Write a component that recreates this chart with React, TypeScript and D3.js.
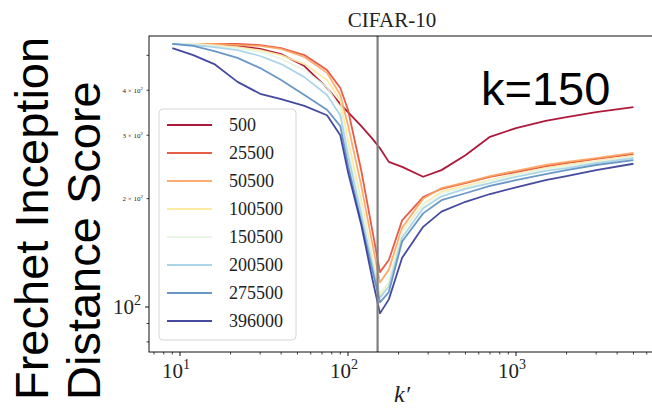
import React from "react";
import * as d3 from "d3";

// k' values at which the score was measured
const kPrime = [9, 12, 16, 22, 30, 40, 55, 75, 90, 100, 120, 140, 155, 175, 210, 280, 360, 500, 700, 1000, 1500, 2000, 3000, 5000];

// number of training samples for each curve
const sampleSizes = ["500", "25500", "50500", "100500", "150500", "200500", "275500", "396000"];

// FID per curve, aligned with kPrime
const fid500 = [538, 538, 534, 531, 521, 504, 467, 406, 366, 348, 318, 293, 276, 253, 245, 230, 240, 264, 297, 314, 329, 337, 348, 359];
const fid25500 = [538, 538, 538, 538, 534, 524, 501, 455, 406, 353, 239, 162, 125, 135, 174, 202, 213, 221, 230, 237, 246, 251, 258, 266];
const fid50500 = [538, 538, 538, 534, 531, 521, 495, 447, 388, 320, 217, 149, 117, 127, 166, 200, 214, 222, 231, 239, 248, 253, 259, 268];
const fid100500 = [538, 538, 534, 527, 517, 501, 473, 427, 376, 291, 198, 137, 108, 117, 162, 193, 209, 217, 225, 234, 243, 248, 254, 263];
const fid150500 = [538, 538, 531, 524, 511, 489, 455, 408, 357, 273, 192, 135, 109, 117, 161, 192, 207, 215, 224, 233, 242, 246, 253, 261];
const fid200500 = [538, 534, 527, 517, 498, 473, 435, 388, 341, 264, 181, 130, 106, 114, 156, 188, 203, 213, 221, 230, 239, 243, 251, 259];
const fid275500 = [538, 531, 514, 492, 461, 427, 388, 353, 318, 248, 172, 126, 103, 110, 152, 182, 198, 207, 217, 225, 234, 240, 248, 256];
const fid396000 = [524, 501, 473, 422, 391, 378, 362, 341, 300, 237, 169, 119, 96, 105, 137, 167, 184, 196, 206, 215, 225, 231, 240, 250];

const allSeries = [fid500, fid25500, fid50500, fid100500, fid150500, fid200500, fid275500, fid396000];

// chosen k marked by the vertical rule
const chosenK = 150;

// axis ticks
const xMajorTicks = [10, 100, 1000];
const xMajorExponents = ["1", "2", "3"];
const xMinorTicks = [7, 8, 9, 20, 30, 40, 50, 60, 70, 80, 90, 200, 300, 400, 500, 600, 700, 800, 900, 2000, 3000, 4000, 5000, 6000, 7000];
const yMajorTicks = [100];
const yMinorTicks = [80, 90, 200, 300, 400, 500];
const yMinorLabelled = [200, 300, 400];
const yMinorLabelMantissa = ["2", "3", "4"];

const W = 652;
const H = 409;

export default function App() {
  const left = 149;
  const top = 36;
  const bottom = 352;
  const right = 660;

  const x = d3.scaleLog().domain([10, 1000]).range([180, 516]);
  const y = d3.scaleLog().domain([100, 1000]).range([307, -53]);

  const color = (i: number) => d3.interpolateRdYlBu(i / (sampleSizes.length - 1));

  const line = d3
    .line<number>()
    .x((_, i) => x(kPrime[i]))
    .y((d) => y(d));

  const serif = "'Liberation Serif', 'DejaVu Serif', serif";
  const sans = "'Liberation Sans', Arial, sans-serif";

  const legendX = 159;
  const legendY = 109;
  const rowH = 28;

  return (
    <svg
      width={W}
      height={H}
      viewBox={`0 0 ${W} ${H}`}
      style={{ position: "absolute", left: 0, top: 0, background: "#fff" }}
    >
      <defs>
        <clipPath id="plotArea">
          <rect x={left} y={top} width={right - left} height={bottom - top} />
        </clipPath>
      </defs>

      {/* title */}
      <text x={392} y={27} textAnchor="middle" fontFamily={serif} fontSize={21} fill="#222">
        CIFAR-10
      </text>

      {/* curves */}
      <g clipPath="url(#plotArea)">
        {allSeries.map((s, i) => (
          <path
            key={sampleSizes[i]}
            d={line(s) || ""}
            fill="none"
            stroke={color(i)}
            strokeWidth={1.8}
            strokeOpacity={0.9}
            strokeLinejoin="round"
          />
        ))}
        <line
          x1={x(chosenK)}
          x2={x(chosenK)}
          y1={top}
          y2={bottom}
          stroke="#7f7f7f"
          strokeWidth={2.2}
        />
      </g>

      {/* frame */}
      <rect x={left} y={top} width={right - left} height={bottom - top} fill="none" stroke="#111" strokeWidth={1} />

      {/* x ticks */}
      {xMinorTicks.map((t) => (
        <line key={"xm" + t} x1={x(t)} x2={x(t)} y1={bottom} y2={bottom + 2.5} stroke="#111" strokeWidth={0.8} />
      ))}
      {xMajorTicks.map((t, i) => (
        <g key={"xM" + t}>
          <line x1={x(t)} x2={x(t)} y1={bottom} y2={bottom + 4} stroke="#111" strokeWidth={1} />
          <text x={x(t) - 4} y={378} textAnchor="middle" fontFamily={serif} fontSize={21} fill="#222">
            10
            <tspan dy={-9} fontSize={14}>
              {xMajorExponents[i]}
            </tspan>
          </text>
        </g>
      ))}

      {/* y ticks */}
      {yMinorTicks.map((t) => (
        <line key={"ym" + t} x1={left - 2.5} x2={left} y1={y(t)} y2={y(t)} stroke="#111" strokeWidth={0.8} />
      ))}
      {yMajorTicks.map((t) => (
        <g key={"yM" + t}>
          <line x1={left - 4} x2={left} y1={y(t)} y2={y(t)} stroke="#111" strokeWidth={1} />
          <text x={left - 8} y={y(t) + 7} textAnchor="end" fontFamily={serif} fontSize={21} fill="#222">
            10
            <tspan dy={-9} fontSize={14}>
              2
            </tspan>
          </text>
        </g>
      ))}
      {yMinorLabelled.map((t, i) => (
        <text key={"yl" + t} x={left - 6} y={y(t) + 2.5} textAnchor="end" fontFamily={serif} fontSize={7} fill="#222">
          {yMinorLabelMantissa[i]} × 10
          <tspan dy={-3} fontSize={5}>
            2
          </tspan>
        </text>
      ))}

      {/* axis label */}
      <text x={402} y={402} textAnchor="middle" fontFamily={serif} fontStyle="italic" fontSize={24} fill="#222">
        k′
      </text>

      {/* y label in two lines */}
      <text transform="translate(48,400) rotate(-90)" fontFamily={sans} fontSize={47} fill="#000">
        Frechet Inception
      </text>
      <text transform="translate(100,400) rotate(-90)" fontFamily={sans} fontSize={47} fill="#000">
        Distance Score
      </text>

      {/* annotation */}
      <text x={481} y={105} fontFamily={sans} fontSize={47} fill="#000">
        k=150
      </text>

      {/* legend */}
      <rect
        x={legendX}
        y={legendY}
        width={137}
        height={231}
        rx={4}
        fill="#fff"
        fillOpacity={0.85}
        stroke="#d6d6d6"
        strokeWidth={1}
      />
      {sampleSizes.map((name, i) => {
        const cy = legendY + 16 + i * rowH;
        return (
          <g key={"lg" + name}>
            <line x1={legendX + 8} x2={legendX + 53} y1={cy} y2={cy} stroke={color(i)} strokeWidth={1.8} strokeOpacity={0.9} />
            <text x={legendX + 70} y={cy + 6} fontFamily={serif} fontSize={18} fill="#222">
              {name}
            </text>
          </g>
        );
      })}
    </svg>
  );
}
